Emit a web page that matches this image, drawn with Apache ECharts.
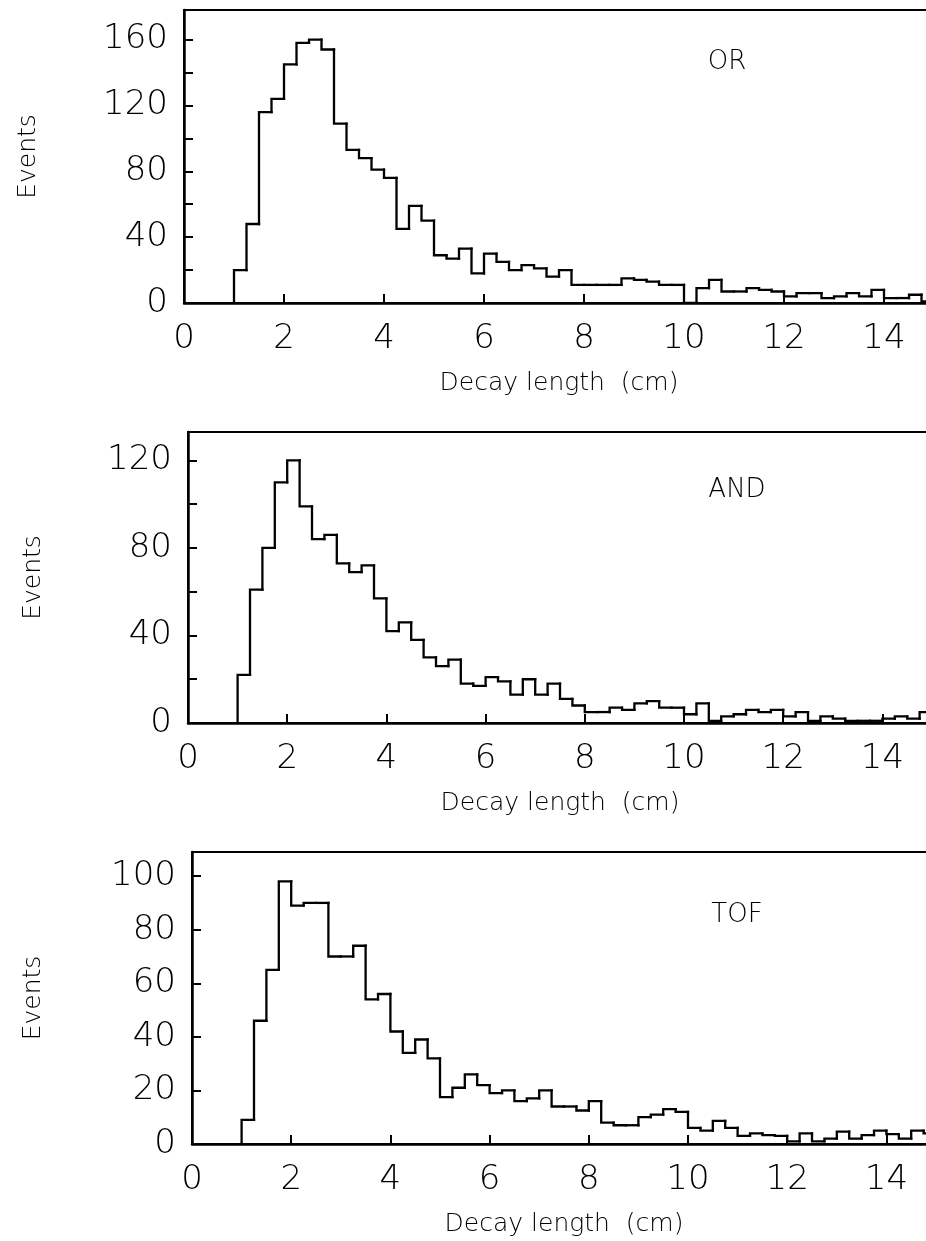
<!DOCTYPE html>
<html>
<head>
<meta charset="utf-8">
<script src="https://cdn.jsdelivr.net/npm/echarts@6/dist/echarts.min.js"></script>
<style>
  html, body { margin: 0; padding: 0; background: #fff; }
  #chart { width: 926px; height: 1241px; }
</style>
</head>
<body>
<div id="chart"></div>
<script>
// ---- Data ----
const X_MIN = 0, X_MAX = 15, X_TICK = 2;
const BIN_START = 1.0, BIN_WIDTH = 0.25;   // histogram bins: 1.0 .. 15.0 cm

const panelLabels = ['OR', 'AND', 'TOF'];
const xTitle = 'Decay length  (cm)';
const yTitle = 'Events';

// Events per 0.25 cm bin, starting at 1.0 cm
const orValues = [20, 48, 116, 124, 145, 158, 160, 154,
                  109, 93, 88, 81, 76, 45, 59, 50,
                  29, 27, 33, 18, 30, 25, 20, 23,
                  21, 16, 20, 11, 11, 11, 11, 15,
                  14, 13, 11, 11, 0, 9, 14, 7,
                  7, 9, 8, 7, 4, 6, 6, 3,
                  4, 6, 4, 8, 3, 3, 5, 1];
const andValues = [22, 61, 80, 110, 120, 99, 84, 86,
                   73, 69, 72, 57, 42, 46, 38, 30,
                   26, 29, 18, 17, 21, 19, 13, 20,
                   13, 18, 11, 8, 5, 5, 7, 6,
                   9, 10, 7, 7, 4, 9, 1, 3,
                   4, 6, 5, 6, 3, 5, 1, 3,
                   2, 1, 1, 1, 2, 3, 2, 5];
const tofValues = [9, 46, 65, 98, 89, 90, 90, 70,
                   70, 74, 54, 56, 42, 34, 39, 32,
                   17.5, 21, 26, 22, 19, 20, 16, 17,
                   20, 14, 14, 12.5, 16, 8, 7, 7,
                   10, 11, 13, 12, 6, 5, 8.6, 6,
                   3, 4, 3.3, 3, 1, 4, 1, 2,
                   4.6, 2, 3.3, 5, 3.7, 2, 5, 4];

// Y axis ranges and label steps
const yMax = [178, 133, 109];
const yTickStep = [20, 20, 20];
const yLabelStep = [40, 40, 20];
const allValues = [orValues, andValues, tofValues];

// ---- Layout / style ----
const FONT = '"DejaVu Sans", sans-serif';
const grids = [
  { left: 184, top: 10,  width: 750, height: 293 },
  { left: 188, top: 432, width: 744, height: 291 },
  { left: 192, top: 852, width: 744, height: 292 }
];
const yNameGap = [143, 142, 146];
const labelPos = [[727, 62], [737, 490], [737, 915]];

// each item: [binLeft, binRight, previousBinValue, value]
function histData(values) {
  return values.map((v, i) => [
    BIN_START + i * BIN_WIDTH,
    BIN_START + (i + 1) * BIN_WIDTH,
    i === 0 ? 0 : values[i - 1],
    v
  ]);
}

function renderStep(params, api) {
  const x0 = api.value(0), x1 = api.value(1), prev = api.value(2), v = api.value(3);
  const a = api.coord([x0, prev]);
  const b = api.coord([x0, v]);
  const c = api.coord([x1, v]);
  return {
    type: 'polyline',
    shape: { points: [a, b, c] },
    style: { stroke: '#000', lineWidth: 2.3, fill: null, lineCap: 'square', lineJoin: 'miter' },
    silent: true
  };
}

const option = {
  animation: false,
  backgroundColor: '#fff',
  grid: grids.map(g => Object.assign({
    show: true, borderColor: '#000', borderWidth: 2, backgroundColor: 'transparent',
    containLabel: false, outerBoundsMode: 'none'
  }, g)),
  xAxis: grids.map((g, i) => ({
    type: 'value', gridIndex: i, min: X_MIN, max: X_MAX, interval: X_TICK,
    name: xTitle, nameLocation: 'middle', nameGap: 68,
    nameTextStyle: { fontFamily: FONT, fontSize: 25, color: '#000', fontWeight: 200 },
    axisLine: { show: true, onZero: false, lineStyle: { color: '#000', width: 2.5 } },
    axisTick: { show: true, inside: true, length: 9, lineStyle: { color: '#000', width: 2 } },
    axisLabel: { show: true, margin: 19, fontFamily: FONT, fontSize: 34, color: '#000', fontWeight: 200,
                 showMaxLabel: false },
    splitLine: { show: false }
  })),
  yAxis: grids.map((g, i) => ({
    type: 'value', gridIndex: i, min: 0, max: yMax[i], interval: yTickStep[i],
    name: yTitle, nameLocation: 'middle', nameGap: yNameGap[i],
    nameTextStyle: { fontFamily: FONT, fontSize: 25, color: '#000', fontWeight: 200 },
    axisLine: { show: true, onZero: false, lineStyle: { color: '#000', width: 2.5 } },
    axisTick: { show: true, inside: true, length: 9, lineStyle: { color: '#000', width: 2 } },
    axisLabel: {
      show: true, margin: 16, fontFamily: FONT, fontSize: 34, color: '#000', fontWeight: 200,
      formatter: v => (v % yLabelStep[i] === 0 ? String(v) : '')
    },
    splitLine: { show: false }
  })),
  graphic: panelLabels.map((t, i) => ({
    type: 'text', x: labelPos[i][0], y: labelPos[i][1],
    style: { text: t, font: '200 26px "DejaVu Sans", sans-serif', fill: '#000',
             textAlign: 'center', textVerticalAlign: 'middle' }
  })),
  series: allValues.map((vals, i) => ({
    type: 'custom', xAxisIndex: i, yAxisIndex: i,
    renderItem: renderStep, clip: true, silent: true,
    encode: { x: [0, 1], y: [2, 3] },
    data: histData(vals)
  }))
};

const chart = echarts.init(document.getElementById('chart'), null, { renderer: 'canvas' });
chart.setOption(option);
</script>
</body>
</html>
